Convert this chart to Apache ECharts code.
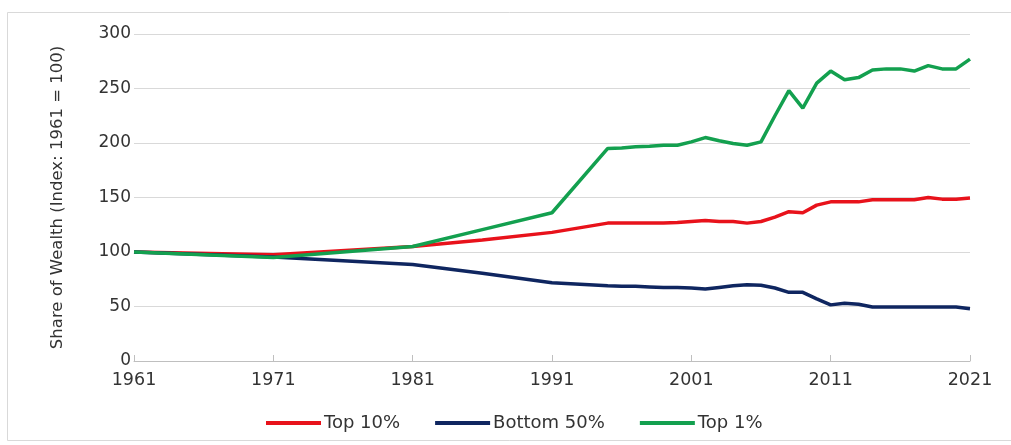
<!DOCTYPE html>
<html>
<head>
<meta charset="utf-8">
<script src="https://cdn.jsdelivr.net/npm/echarts@6/dist/echarts.min.js"></script>
<style>
html,body{margin:0;padding:0;background:#fff;}
#c{width:1011px;height:445px;}
</style>
</head>
<body>
<div id="c"></div>
<script>
const years = [1961, 1971, 1981, 1986, 1991, 1995, 1996, 1997, 1998, 1999, 2000, 2001, 2002, 2003, 2004, 2005, 2006, 2007, 2008, 2009, 2010, 2011, 2012, 2013, 2014, 2015, 2016, 2017, 2018, 2019, 2020, 2021];
const top10 = [100, 97.5, 105, 111, 118, 126.5, 126.5, 126.5, 126.5, 126.5, 127, 128, 129, 128, 128, 126.5, 128, 132, 137, 136, 143, 146, 146, 146, 148, 148, 148, 148, 150, 148.5, 148.5, 149.5];
const bottom50 = [100, 95.5, 88.5, 80.5, 71.8, 69, 68.5, 68.5, 68, 67.5, 67.5, 67, 66, 67.5, 69, 70, 69.5, 67, 63, 63, 57, 51.5, 53, 52, 49.5, 49.5, 49.5, 49.5, 49.5, 49.5, 49.5, 48];
const top1 = [100, 95, 105, 120.5, 136, 195, 195.5, 196.5, 197, 198, 198, 201, 205, 202, 199.5, 198, 201, 225, 248, 232, 255, 266, 258, 260, 267, 268, 268, 266, 271, 268, 268, 277];
const xTicks = [1961, 1971, 1981, 1991, 2001, 2011, 2021];
const yTicks = [0, 50, 100, 150, 200, 250, 300];
const yName = 'Share of Wealth (Index: 1961 = 100)';
const seriesNames = ['Top 10%', 'Bottom 50%', 'Top 1%'];

const pair = arr => years.map((y, i) => [y, arr[i]]);
const font = 'DejaVu Sans, sans-serif';
const chart = echarts.init(document.getElementById('c'), null, {renderer: 'canvas'});
const mk = (name, data, color) => ({
  name, type: 'line', data: pair(data), showSymbol: false, symbol: 'none',
  lineStyle: {width: 3.5, color}, itemStyle: {color}, z: 3
});
chart.setOption({
  animation: false,
  backgroundColor: '#fff',
  graphic: [{
    type: 'rect', shape: {x: 7.5, y: 12.5, width: 1010, height: 428},
    style: {fill: 'none', stroke: '#d9d9d9', lineWidth: 1}, silent: true, z: -1
  }],
  grid: {left: 134, right: 41, top: 34, bottom: 84},
  legend: {
    top: 414, left: 266, itemGap: 35, itemWidth: 55, itemHeight: 4,
    icon: 'rect', padding: 0,
    textStyle: {fontFamily: font, fontSize: 18, color: '#333', padding: [0, 0, 0, -2]},
    data: seriesNames
  },
  xAxis: {
    type: 'value', min: 1961, max: 2021, interval: 10,
    axisLine: {show: true, lineStyle: {color: '#bfbfbf', width: 1}},
    axisTick: {show: true, inside: true, length: 6, lineStyle: {color: '#bfbfbf'}},
    splitLine: {show: false},
    axisLabel: {fontFamily: font, fontSize: 17.5, color: '#333', margin: 10,
      formatter: v => xTicks.includes(v) ? String(v) : ''}
  },
  yAxis: {
    type: 'value', min: 0, max: 300, interval: 50,
    name: yName, nameLocation: 'middle', nameGap: 68, nameRotate: 90,
    nameTextStyle: {fontFamily: font, fontSize: 16.5, color: '#333'},
    axisLine: {show: false}, axisTick: {show: false},
    splitLine: {lineStyle: {color: '#d9d9d9', width: 1}},
    axisLabel: {fontFamily: font, fontSize: 17, color: '#333', margin: 3,
      formatter: v => yTicks.includes(v) ? String(v) : ''}
  },
  series: [
    mk(seriesNames[0], top10, '#e8121b'),
    mk(seriesNames[1], bottom50, '#0f2660'),
    mk(seriesNames[2], top1, '#13a04f')
  ]
});
</script>
</body>
</html>
